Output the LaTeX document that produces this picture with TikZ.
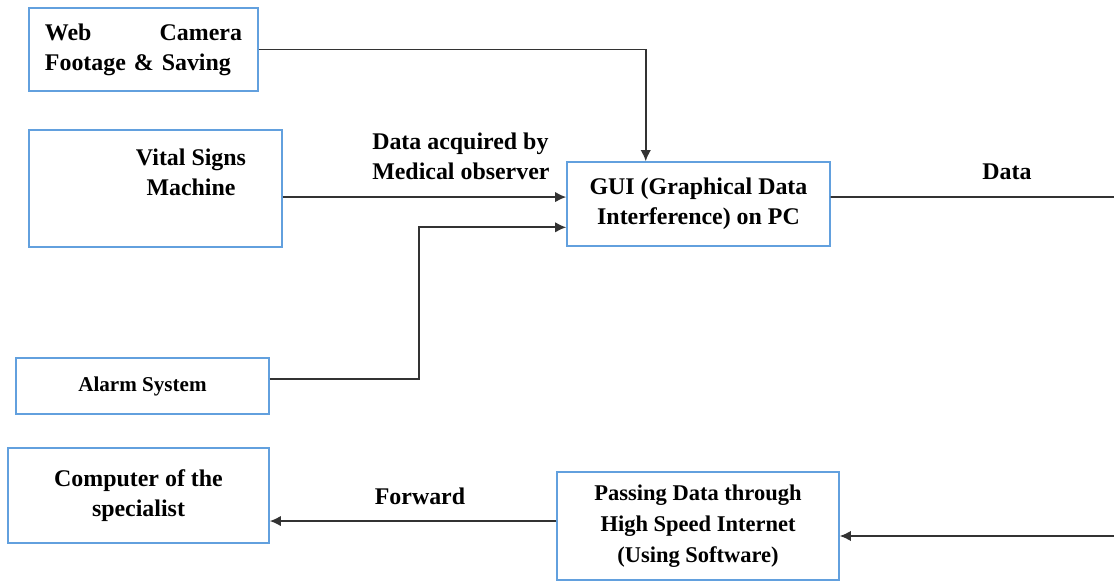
\documentclass[tikz,border=0pt]{standalone}
\usepackage{fontspec}
\setmainfont{Liberation Serif}
\usetikzlibrary{arrows.meta}
\definecolor{boxblue}{RGB}{98,160,222}
\tikzset{bx/.style = {rectangle, draw=boxblue, line width=1pt, inner sep=0pt, align=center,
                      font=\bfseries\fontsize{17}{21.5}\selectfont},
           lb/.style = {inner sep=0pt, align=left, font=\bfseries\fontsize{17}{21.5}\selectfont},
           ln/.style = {draw=black!80, line width=1.2pt}}

\begin{document}
\begin{tikzpicture}[x=0.025cm, y=-0.025cm, >={Latex[length=8pt,width=7.5pt]}]
    \useasboundingbox (0,0) rectangle (1114,582);
    \node[bx, minimum width=5.725cm, minimum height=2.075cm, text width=4.925cm, align=left] (cam) at (143.5,49.5) {Web\hfill Camera\\Footage \& Saving};
    \node[bx, minimum width=6.325cm, minimum height=2.925cm] (vital) at (155.5,188.5) {};
    \node[lb, align=center] (vitaltxt) at (191,172.5) {Vital Signs\\Machine};
    \node[bx, minimum width=6.575cm, minimum height=2.1cm] (gui) at (698.5,204) {GUI (Graphical Data\\Interference) on PC};
    \node[bx, minimum width=6.325cm, minimum height=1.4cm, font=\bfseries\fontsize{15}{18}\selectfont] (alarm) at (142.5,386) {Alarm System};
    \node[bx, minimum width=6.525cm, minimum height=2.375cm] (comp) at (138.5,495.5) {Computer of the\\specialist};
    \node[bx, minimum width=7.05cm, minimum height=2.7cm, font=\bfseries\fontsize{16}{22}\selectfont] (pass) at (698,526) {Passing Data through\\High Speed Internet\\(Using Software)};
    \node[lb, anchor=west] (obs) at (372,156.5) {Data acquired by\\Medical observer};
    \node[lb] (data) at (1007,172) {Data};
    \node[lb] (fwd) at (420,496) {Forward};
    \coordinate (dataout) at (1114,197);
    \coordinate (netin) at (1114,536);
    \draw[ln, ->] (cam.east) -| (gui.141);
    \draw[ln, ->] (vital.east |- gui.177) -- (gui.177);
    \draw[ln, ->] (alarm.3) -- ++(149,0) |- (gui.190);
    \draw[ln] (gui.3) -- (dataout);
    \draw[ln, ->] (netin) -- (pass.east |- netin);
    \draw[ln, ->] (pass.178) -- (pass.178 -| comp.east);
\end{tikzpicture}
\end{document}
